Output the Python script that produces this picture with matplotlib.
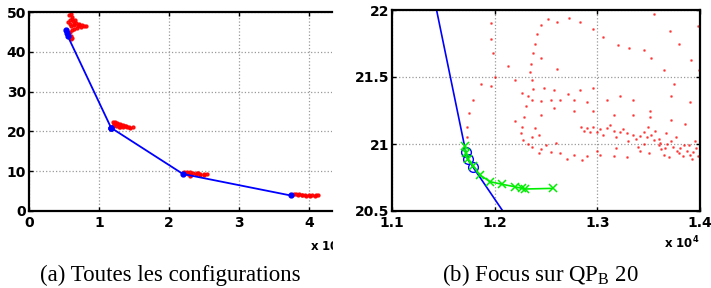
import numpy as np
import matplotlib
matplotlib.use("Agg")
import matplotlib.pyplot as plt
from matplotlib.transforms import Bbox

plt.rcParams['font.family'] = ['DejaVu Sans']
plt.rcParams['mathtext.fontset'] = 'custom'
plt.rcParams['mathtext.rm'] = 'Liberation Serif'
plt.rcParams['mathtext.bf'] = 'DejaVu Sans:bold'

# x values are in units of 10^4
# pareto front (blue)
front_x = [0.535, 0.545, 0.555, 1.1718, 1.1737, 1.1786, 2.2, 3.74]
front_y = [45.4, 44.6, 43.9, 20.943, 20.888, 20.831, 9.3, 3.9]

# refinement path around QP_B 20 (green)
path_x = [1.171, 1.172, 1.1737, 1.179, 1.1857, 1.1954, 1.2074, 1.2198, 1.2263, 1.2295, 1.257]
path_y = [20.985, 20.935, 20.886, 20.838, 20.769, 20.719, 20.699, 20.681, 20.669, 20.664, 20.669]

# all configurations (red), panel (a), one cloud per QP
cloud_x = [0.57, 0.6, 0.62, 0.58, 0.63, 0.67, 0.72, 0.76, 0.81, 0.74, 0.68, 0.62, 0.6,
           0.58, 0.6, 0.62, 0.65, 0.7, 0.64, 0.59, 0.61, 0.66, 0.6, 0.78, 0.71, 0.64, 0.56,
           1.2, 1.23, 1.26, 1.3, 1.34, 1.38, 1.43, 1.48, 1.44, 1.4, 1.35, 1.3, 1.25, 1.22,
           1.27, 1.32, 1.37, 1.21, 1.29,
           2.22, 2.26, 2.3, 2.35, 2.4, 2.45, 2.5, 2.54, 2.5, 2.44, 2.38, 2.32, 2.27, 2.24,
           2.3, 2.42,
           3.78, 3.82, 3.86, 3.9, 3.95, 4.0, 4.05, 4.1, 4.13, 4.08, 4.02, 3.96, 3.9, 3.84]
cloud_y = [49.3, 49.5, 48.8, 48.0, 47.8, 47.3, 47.0, 46.7, 46.6, 46.3, 46.0, 45.5, 46.5,
           45.0, 44.0, 43.5, 46.8, 46.5, 45.8, 47.0, 48.3, 48.0, 43.1, 46.6, 46.8, 47.0, 47.5,
           22.3, 22.4, 22.1, 21.9, 21.6, 21.4, 21.2, 21.0, 20.9, 21.0, 21.1, 21.2, 21.3, 21.6,
           21.8, 21.5, 21.3, 21.9, 21.1,
           9.9, 9.8, 9.7, 9.6, 9.5, 9.4, 9.3, 9.2, 9.0, 9.1, 9.2, 9.1, 9.4, 9.6,
           8.9, 9.6,
           4.3, 4.2, 4.2, 4.1, 4.1, 4.0, 4.0, 3.9, 3.9, 3.8, 3.7, 3.8, 3.9, 4.0]

# panel (b) zoomed cloud
zoom_x = [1.245, 1.252, 1.261, 1.272, 1.283, 1.296, 1.306, 1.32, 1.331, 1.345, 1.352, 1.365,
          1.375, 1.391, 1.399, 1.398, 1.355, 1.371, 1.38,
          1.196, 1.196, 1.198, 1.2, 1.196, 1.187, 1.179, 1.175, 1.173, 1.173,
          1.241, 1.239, 1.237, 1.235, 1.234, 1.236, 1.237, 1.232, 1.231, 1.229, 1.227, 1.226,
          1.228, 1.232, 1.236, 1.245, 1.255, 1.264, 1.277, 1.29, 1.303, 1.316, 1.329,
          1.213, 1.22, 1.227, 1.236, 1.245, 1.255, 1.264, 1.277, 1.29,
          1.261, 1.245, 1.248, 1.258, 1.271, 1.283, 1.296, 1.309, 1.322, 1.335, 1.351, 1.372,
          1.39, 1.22, 1.245, 1.258, 1.277, 1.296, 1.316, 1.335, 1.351, 1.372, 1.385,
          1.239, 1.236, 1.243,
          1.284, 1.29, 1.296, 1.303, 1.309, 1.316, 1.322, 1.329, 1.335, 1.342, 1.348, 1.355,
          1.361, 1.368, 1.374, 1.381, 1.387, 1.393, 1.398, 1.30, 1.312, 1.325, 1.338, 1.345,
          1.352, 1.36, 1.366, 1.372, 1.378, 1.384, 1.39, 1.396, 1.392, 1.38, 1.36, 1.345,
          1.33, 1.318, 1.306, 1.293, 1.287,
          1.35, 1.365, 1.37, 1.342, 1.243, 1.27, 1.285, 1.3, 1.318, 1.26, 1.25, 1.395,
          1.356, 1.362, 1.377, 1.389, 1.383, 1.367, 1.349, 1.34]
zoom_y = [21.89, 21.93, 21.91, 21.94, 21.91, 21.86, 21.80, 21.74, 21.72, 21.70, 21.64, 21.55,
          21.45, 21.63, 21.55, 21.88, 21.97, 21.84, 21.75,
          21.90, 21.78, 21.68, 21.50, 21.43, 21.45, 21.33, 21.23, 21.13, 21.05,
          21.82, 21.75, 21.68, 21.60, 21.54, 21.48, 21.41, 21.36, 21.28, 21.20, 21.13, 21.08,
          21.03, 21.0, 20.98, 20.96, 20.94, 20.93, 20.92, 20.91, 20.92, 20.91, 20.90,
          21.58, 21.48, 21.38, 21.33, 21.32, 21.33, 21.33, 21.33, 21.31,
          21.56, 21.64, 21.42, 21.40, 21.37, 21.40, 21.42, 21.33, 21.36, 21.33, 21.25, 21.36,
          21.31, 21.17, 21.22, 21.27, 21.25, 21.25, 21.22, 21.22, 21.20, 21.18, 21.15,
          21.12, 21.05, 21.07,
          21.13, 21.12, 21.13, 21.11, 21.12, 21.10, 21.09, 21.08, 21.07, 21.06, 21.05, 21.03,
          21.01, 21.0, 20.98, 20.97, 20.95, 20.94, 20.91, 21.09, 21.14, 21.11, 21.04, 21.09,
          21.07, 21.04, 20.97, 21.02, 20.95, 20.99, 20.92, 20.97, 20.89, 20.93, 20.99, 21.0,
          21.02, 21.05, 21.07, 21.09, 21.10,
          20.93, 20.92, 20.90, 20.95, 20.93, 20.89, 20.88, 20.95, 20.97, 21.01, 20.99, 21.02,
          21.1, 20.96, 21.05, 20.99, 20.91, 21.08, 21.13, 20.98]

fig = plt.figure(figsize=(7.11, 2.88), dpi=100)
ax1 = fig.add_axes([29 / 711, 1 - 211 / 288, 303 / 711, 199 / 288])
ax2 = fig.add_axes([392 / 711, 1 - 211 / 288, 308 / 711, 201 / 288])

for ax in (ax1, ax2):
    for s in ax.spines.values():
        s.set_linewidth(1.6)
    ax.grid(True, linestyle=':', color='0.6', linewidth=0.9)
    ax.set_axisbelow(True)
    ax.tick_params(direction='in', length=3, width=1, top=True, right=True,
                   labelsize=10)
    ax.tick_params(axis='x', pad=3.5)
    ax.tick_params(axis='y', pad=2)

# panel (a)
ax1.plot(cloud_x, cloud_y, '.', color='red', markersize=4.2, alpha=0.9)
ax1.plot(front_x, front_y, '-', color='blue', linewidth=1.3)
ax1.plot(front_x, front_y, 'o', color='blue', markersize=3.5)
ax1.set_xlim(0, 4.33)
ax1.set_ylim(0, 50)
ax1.set_xticks([0, 1, 2, 3, 4])
ax1.set_yticks([0, 10, 20, 30, 40, 50])
ax1.spines['right'].set_visible(False)
ax1.tick_params(right=False)
for lab in ax1.get_xticklabels() + ax1.get_yticklabels():
    lab.set_fontweight('bold')

# panel (b)
ax2.plot(zoom_x, zoom_y, '.', color='red', markersize=2.0, alpha=0.55)
ax2.plot(front_x, front_y, '-', color='blue', linewidth=1.2)
ax2.plot(front_x, front_y, 'o', color='blue', markersize=7, markerfacecolor='none',
         markeredgewidth=1.0)
ax2.plot(path_x, path_y, '-x', color='#00ee00', linewidth=1.2, markersize=6,
         markeredgewidth=1.1)
ax2.set_xlim(1.1, 1.4)
ax2.set_ylim(20.5, 22)
ax2.set_xticks([1.1, 1.2, 1.3, 1.4])
ax2.set_yticks([20.5, 21, 21.5, 22])
ax2.set_yticklabels(['20.5', '21', '21.5', '22'])
for lab in ax2.get_xticklabels() + ax2.get_yticklabels():
    lab.set_fontweight('bold')

# x 10^4 multipliers
t1 = fig.text(310 / 711, 1 - 246 / 288, r'x 10$^{\mathbf{4}}$', fontsize=8.5,
              fontweight='bold', va='center', ha='left')
t1.set_clip_box(Bbox([[0, 0], [333, 288]]))
t1.set_clip_on(True)
fig.text(700 / 711, 1 - 243 / 288, r'x 10$^{\mathbf{4}}$', fontsize=8.5,
         fontweight='bold', va='center', ha='right')

# captions
fig.text(170 / 711, 1 - 281 / 288, '(a) Toutes les configurations', fontsize=16.5,
         family='Liberation Serif', ha='center', va='baseline')
fig.text(540 / 711, 1 - 281 / 288, r'(b) Focus sur $\mathrm{QP}_\mathrm{B}$ 20', fontsize=16.5,
         family='Liberation Serif', ha='center', va='baseline')

fig.savefig('out.png', dpi=100)
